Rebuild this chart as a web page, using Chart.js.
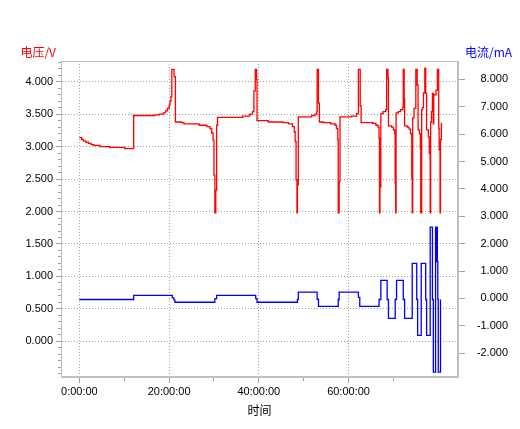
<!DOCTYPE html>
<html>
<head>
<meta charset="utf-8">
<script src="https://cdn.jsdelivr.net/npm/chart.js@4/dist/chart.umd.min.js"></script>
<style>
  html, body { margin: 0; padding: 0; background: #fff; }
</style>
</head>
<body>
<canvas id="chart" width="520" height="429"></canvas>
<script>
// voltage trace: time (h) and value (V), each value holds until the next time
const VOLT_T = [
  0, 0.5, 0.9, 1.4, 2.0, 2.6, 3.2, 4.6, 6.8, 10.1,
  12.1, 16.8, 17.8, 18.7, 19.2, 19.6, 20.0, 20.2, 20.4, 20.6, 21.1,
  21.4, 22.8, 23.3, 26.7, 28.4, 29.1, 29.5, 29.8, 30.0, 30.2, 30.4,
  30.6, 30.8, 36.4, 38.0, 38.6, 38.9, 39.2, 39.5,
  39.6, 42.1, 45.4, 46.6, 47.5, 47.9, 48.1, 48.3, 48.5, 48.6,
  48.8, 51.8, 52.5, 52.9, 53.0, 53.3,
  53.5, 54.4, 56.0, 57.0, 57.3, 57.6, 57.7, 57.9,
  58.1, 60.7, 61.8, 62.2, 62.6,
  62.8, 65.4, 66.1, 66.6, 66.8, 66.9, 67.0,
  67.2, 67.7, 68.3, 68.5, 68.8,
  68.9, 69.6, 70.0, 70.3, 70.4, 70.5,
  70.6, 71.1, 71.6, 72.1, 72.2, 72.4,
  72.5, 73.1, 73.5, 73.8, 74.1, 74.2,
  74.3, 74.6, 75.0, 75.3,
  75.5, 75.8, 76.0, 76.1,
  76.3, 76.5, 76.7, 77.0, 77.2,
  77.4, 77.8, 78.0, 78.2,
  78.3, 78.5, 78.7, 78.9, 79.0, 79.5, 79.8,
  80.1, 80.2, 80.4, 80.5, 80.7, 80.8
];
const VOLT_V = [
  3.14, 3.11, 3.09, 3.07, 3.05, 3.03, 3.02, 3.00, 2.99, 2.97,
  3.48, 3.49, 3.50, 3.52, 3.55, 3.59, 3.64, 3.70, 3.77, 4.19, 4.08,
  3.38, 3.37, 3.35, 3.33, 3.31, 3.28, 3.21, 3.10, 2.56, 1.98, 2.33,
  3.33, 3.45, 3.47, 3.50, 3.54, 3.86, 4.19, 4.04,
  3.40, 3.38, 3.37, 3.35, 3.31, 3.23, 3.08, 2.49, 1.98, 2.41,
  3.46, 3.48, 3.50, 3.54, 4.19, 3.67,
  3.38, 3.37, 3.35, 3.33, 3.28, 3.11, 1.98, 2.46,
  3.46, 3.47, 3.51, 4.19, 3.63,
  3.37, 3.36, 3.33, 3.30, 3.13, 1.98, 2.38,
  3.51, 3.54, 3.57, 4.19, 4.05,
  3.32, 3.30, 3.26, 3.20, 2.43, 1.98,
  3.52, 3.54, 3.57, 3.61, 4.19, 3.74,
  3.32, 3.30, 3.27, 3.20, 2.51, 1.98,
  3.44, 3.59, 4.19, 3.95,
  3.26, 3.20, 2.97, 1.98,
  3.57, 3.60, 3.83, 4.21, 3.82,
  3.26, 3.15, 2.90, 1.98,
  3.38, 3.54, 3.82, 3.35, 3.80, 3.87, 4.19,
  3.28, 2.95, 1.98, 3.11, 3.36, 3.36
];

// current trace: time (h) and value (mA)
const CURR_T = [
  0, 12.1, 20.7, 21.1, 21.3, 30.2, 30.6, 39.3, 39.6, 48.6, 48.8,
  53.0, 53.3, 57.7, 57.9, 62.2, 62.5, 66.8, 67.2, 68.6, 68.9,
  70.4, 70.7, 72.2, 72.5, 74.2, 75.2, 75.4, 76.2, 77.2, 77.4,
  78.2, 78.7, 78.9, 79.4, 79.6, 79.7, 79.8, 79.9, 80.0, 80.5
];
const CURR_V = [
  -0.04, 0.11, 0.02, -0.06, -0.14, -0.01, 0.11, -0.01, -0.14, -0.04, 0.23,
  -0.03, -0.29, -0.04, 0.23, 0.04, -0.29, -0.04, 0.66, -0.04, -0.73,
  -0.04, 0.66, -0.04, -0.73, 1.28, -0.04, -1.35, 1.28, -0.04, -1.35,
  2.60, -0.04, -2.69, 2.60, 1.34, 2.60, 1.34, -0.04, -2.69, -0.04
];

const X_MAJOR = [0, 20, 40, 60];
const X_MINOR = [10, 30, 50, 70];
const V_TICKS = [0, 0.5, 1, 1.5, 2, 2.5, 3, 3.5, 4];
const I_TICKS = [-2, -1, 0, 1, 2, 3, 4, 5, 6, 7, 8];

const X_TITLE = '时间';
const V_TITLE = '电压/V';
const I_TITLE = '电流/mA';

const X_MIN = -4.1, X_MAX = 84.4;
const V_MIN = -0.55, V_MAX = 4.32;
const I_MIN = -2.87, I_MAX = 8.67;

const GRID = '#a0a0a0';
const FRAME = '#c0c0c0';
const TICK_FONT = { family: '"Liberation Sans", Arial, sans-serif', size: 11 };
const CJK = '"Noto Sans CJK SC", sans-serif';

const unitLabels = {
  id: 'unitLabels',
  afterDraw(chart) {
    const { ctx, chartArea } = chart;
    ctx.save();
    ctx.font = '12px ' + CJK;
    ctx.textBaseline = 'middle';
    ctx.fillStyle = '#ff0000';
    ctx.textAlign = 'right';
    ctx.fillText(V_TITLE, chartArea.left - 5, chartArea.top - 9);
    ctx.fillStyle = '#0000ff';
    ctx.textAlign = 'left';
    ctx.fillText(I_TITLE, chartArea.right + 7, chartArea.top - 9);
    ctx.restore();
  }
};

const frame = {
  id: 'frame',
  afterDraw(chart) {
    const { ctx, chartArea: a } = chart;
    ctx.save();
    ctx.strokeStyle = FRAME;
    ctx.lineWidth = 1;
    ctx.strokeRect(Math.round(a.left) + 0.5, Math.round(a.top) + 0.5,
      Math.round(a.right - a.left) - 1, Math.round(a.bottom - a.top) - 1);
    ctx.restore();
  }
};

function setTicks(values) {
  return scale => { scale.ticks = values.map(v => ({ value: v })); };
}

new Chart(document.getElementById('chart'), {
  type: 'line',
  data: {
    datasets: [
      {
        label: '电压',
        data: VOLT_T.map((t, i) => ({ x: t, y: VOLT_V[i] })),
        borderColor: '#ff0000',
        borderWidth: 1.3,
        pointRadius: 0,
        stepped: true,
        xAxisID: 'x',
        yAxisID: 'y'
      },
      {
        label: '电流',
        data: CURR_T.map((t, i) => ({ x: t, y: CURR_V[i] })),
        borderColor: '#0000ff',
        borderWidth: 1.3,
        pointRadius: 0,
        stepped: true,
        xAxisID: 'x',
        yAxisID: 'y1'
      }
    ]
  },
  options: {
    responsive: false,
    animation: false,
    devicePixelRatio: 1,
    layout: { padding: { left: 0, right: 12, top: 61, bottom: 0 } },
    plugins: { legend: { display: false }, tooltip: { enabled: false } },
    scales: {
      x: {
        type: 'linear', position: 'bottom', weight: 1,
        min: X_MIN, max: X_MAX,
        afterBuildTicks: setTicks(X_MAJOR),
        afterFit: s => { s.height = 52; },
        ticks: {
          autoSkip: false, maxRotation: 0, padding: 2,
          color: '#000', font: TICK_FONT,
          callback: v => v + ':00:00'
        },
        grid: { color: GRID, tickColor: GRID, tickLength: 6, tickBorderDash: [] },
        border: { color: FRAME, dash: [1, 2] },
        title: { display: true, text: X_TITLE, color: '#000', font: { family: CJK, size: 12 }, padding: { top: 0, bottom: 11 } }
      },
      xMinor: {
        type: 'linear', position: 'bottom', weight: 0,
        min: X_MIN, max: X_MAX,
        afterBuildTicks: setTicks(X_MINOR),
        afterFit: s => { s.height = 0; },
        ticks: { display: false },
        grid: { drawOnChartArea: false, tickColor: GRID, tickLength: 4 },
        border: { display: false }
      },
      y: {
        type: 'linear', position: 'left', weight: 1,
        min: V_MIN, max: V_MAX,
        afterBuildTicks: setTicks(V_TICKS),
        afterFit: s => { s.width = 61; },
        ticks: {
          autoSkip: false, padding: 3, color: '#000', font: TICK_FONT,
          callback: v => v.toFixed(3)
        },
        grid: { color: GRID, tickColor: GRID, tickLength: 5, tickBorderDash: [] },
        border: { color: FRAME, dash: [1, 2] }
      },
      yMinor: {
        type: 'linear', position: 'left', weight: 0,
        min: V_MIN, max: V_MAX,
        afterFit: s => { s.width = 0; },
        ticks: { display: false, stepSize: 0.1, includeBounds: false },
        grid: { drawOnChartArea: false, tickColor: GRID, tickLength: 3 },
        border: { display: false }
      },
      y1: {
        type: 'linear', position: 'right',
        min: I_MIN, max: I_MAX,
        afterBuildTicks: setTicks(I_TICKS),
        afterFit: s => { s.width = 50; },
        ticks: {
          autoSkip: false, crossAlign: 'far', color: '#000', font: TICK_FONT,
          callback: v => v.toFixed(3)
        },
        grid: { drawOnChartArea: false, tickColor: GRID, tickLength: 7 },
        border: { color: FRAME }
      }
    }
  },
  plugins: [unitLabels, frame]
});
</script>
</body>
</html>
